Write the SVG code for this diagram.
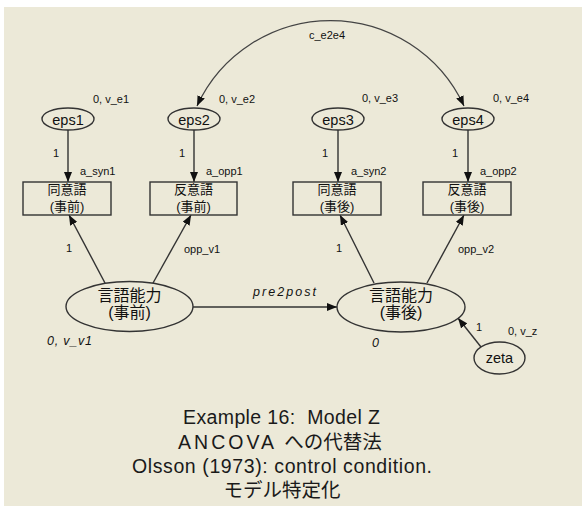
<svg xmlns="http://www.w3.org/2000/svg" width="582" height="506" viewBox="0 0 582 506">
<defs>
<marker id="ah" viewBox="0 0 10 8" refX="10" refY="4" markerWidth="10" markerHeight="8" markerUnits="userSpaceOnUse" orient="auto-start-reverse"><path d="M0,0 L10,4 L0,8 z" fill="#111"/></marker>
<style>
.bg{fill:#ECE9D8}
.node{fill:none;stroke:#333;stroke-width:1.4}
.edge{fill:none;stroke:#333;stroke-width:1.4;marker-end:url(#ah)}
.lbl{font-family:"Liberation Sans",Arial,sans-serif;font-size:11px;fill:#111}
.it{font-family:"Liberation Sans",Arial,sans-serif;font-size:12.5px;font-style:italic;fill:#111}
.var{font-family:"Liberation Sans",Arial,sans-serif;font-size:14.5px;fill:#111;text-anchor:middle}
.obs{font-family:"Liberation Sans","Noto Sans CJK JP",sans-serif;font-size:13px;fill:#111;text-anchor:middle}
.lat{font-family:"Liberation Sans","Noto Sans CJK JP",sans-serif;font-size:16px;fill:#111;text-anchor:middle}
.title{font-family:"Liberation Sans","Noto Sans CJK JP",sans-serif;font-size:19.5px;fill:#1a1a1a;text-anchor:middle}
</style>
</defs>
<rect x="0" y="0" width="582" height="506" fill="#FFFFFF"/>
<rect class="bg" x="4" y="7" width="578" height="499"/>

<g id="connectors">
<path class="edge" d="M68,130 L68,182"/>
<path class="edge" d="M194,130 L194,182"/>
<path class="edge" d="M338,130 L338,182"/>
<path class="edge" d="M468,130 L468,182"/>
<path class="edge" d="M105,283 L69,215"/>
<path class="edge" d="M153,283 L191,215"/>
<path class="edge" d="M374,283 L340,215"/>
<path class="edge" d="M427,283 L464,215"/>
<path class="edge" d="M193,307 L337,307"/>
<path class="edge" d="M481,347 L458,318"/>
<path class="edge" style="stroke:#444;stroke-width:1.3;marker-start:url(#ah)" d="M197,106 A147,147 0 0 1 464,106"/>
</g>

<g id="eps1"><ellipse class="node" cx="68" cy="119" rx="26" ry="11"/><text class="var" x="68" y="125">eps1</text></g>
<g id="eps2"><ellipse class="node" cx="194" cy="119" rx="26" ry="11"/><text class="var" x="194" y="125">eps2</text></g>
<g id="eps3"><ellipse class="node" cx="338" cy="119" rx="26" ry="11"/><text class="var" x="338" y="125">eps3</text></g>
<g id="eps4"><ellipse class="node" cx="468" cy="119" rx="26" ry="11"/><text class="var" x="468" y="125">eps4</text></g>

<g id="syn_pre"><rect class="node" x="23" y="182" width="88" height="33"/><text class="obs" x="67" y="194">同意語</text><text class="obs" x="67" y="211">(事前)</text></g>
<g id="opp_pre"><rect class="node" x="150" y="182" width="87" height="33"/><text class="obs" x="193.5" y="194">反意語</text><text class="obs" x="193.5" y="211">(事前)</text></g>
<g id="syn_post"><rect class="node" x="293" y="182" width="88" height="33"/><text class="obs" x="337" y="194">同意語</text><text class="obs" x="337" y="211">(事後)</text></g>
<g id="opp_post"><rect class="node" x="423" y="182" width="88" height="33"/><text class="obs" x="467" y="194">反意語</text><text class="obs" x="467" y="211">(事後)</text></g>

<g id="verbal_pre"><ellipse class="node" cx="129.5" cy="306.5" rx="63.5" ry="25"/><text class="lat" x="129.5" y="301">言語能力</text><text class="lat" x="129.5" y="318">(事前)</text></g>
<g id="verbal_post"><ellipse class="node" cx="401" cy="307" rx="64" ry="25"/><text class="lat" x="401" y="301">言語能力</text><text class="lat" x="401" y="318">(事後)</text></g>
<g id="zeta"><ellipse class="node" cx="499.5" cy="358" rx="25.5" ry="16"/><text class="var" x="499.5" y="363">zeta</text></g>

<g id="labels">
<text class="lbl" x="93" y="103">0, v_e1</text>
<text class="lbl" x="219" y="103">0, v_e2</text>
<text class="lbl" x="362" y="102">0, v_e3</text>
<text class="lbl" x="493" y="102">0, v_e4</text>
<text class="lbl" x="53" y="157">1</text>
<text class="lbl" x="179" y="157">1</text>
<text class="lbl" x="322" y="157">1</text>
<text class="lbl" x="452" y="157">1</text>
<text class="lbl" x="80" y="175">a_syn1</text>
<text class="lbl" x="206" y="175">a_opp1</text>
<text class="lbl" x="351" y="175">a_syn2</text>
<text class="lbl" x="480" y="175">a_opp2</text>
<text class="lbl" x="309" y="39">c_e2e4</text>
<text class="lbl" x="66" y="252">1</text>
<text class="lbl" x="184" y="253">opp_v1</text>
<text class="lbl" x="336" y="252">1</text>
<text class="lbl" x="458" y="253">opp_v2</text>
<text class="lbl" x="476" y="331">1</text>
<text class="lbl" x="508" y="335">0, v_z</text>
<text class="it" x="253" y="296" textLength="63">pre2post</text>
<text class="it" x="47" y="345" textLength="45">0, v_v1</text>
<text class="it" x="372" y="347">0</text>
</g>

<g id="title">
<text class="title" x="281.5" y="424" textLength="197" xml:space="preserve">Example 16:  Model Z</text>
<text class="title" x="280" y="449"><tspan letter-spacing="3">ANCOVA </tspan>への代替法</text>
<text class="title" x="282" y="473" textLength="300">Olsson (1973): control condition.</text>
<text class="title" x="282" y="497">モデル特定化</text>
</g>
</svg>
